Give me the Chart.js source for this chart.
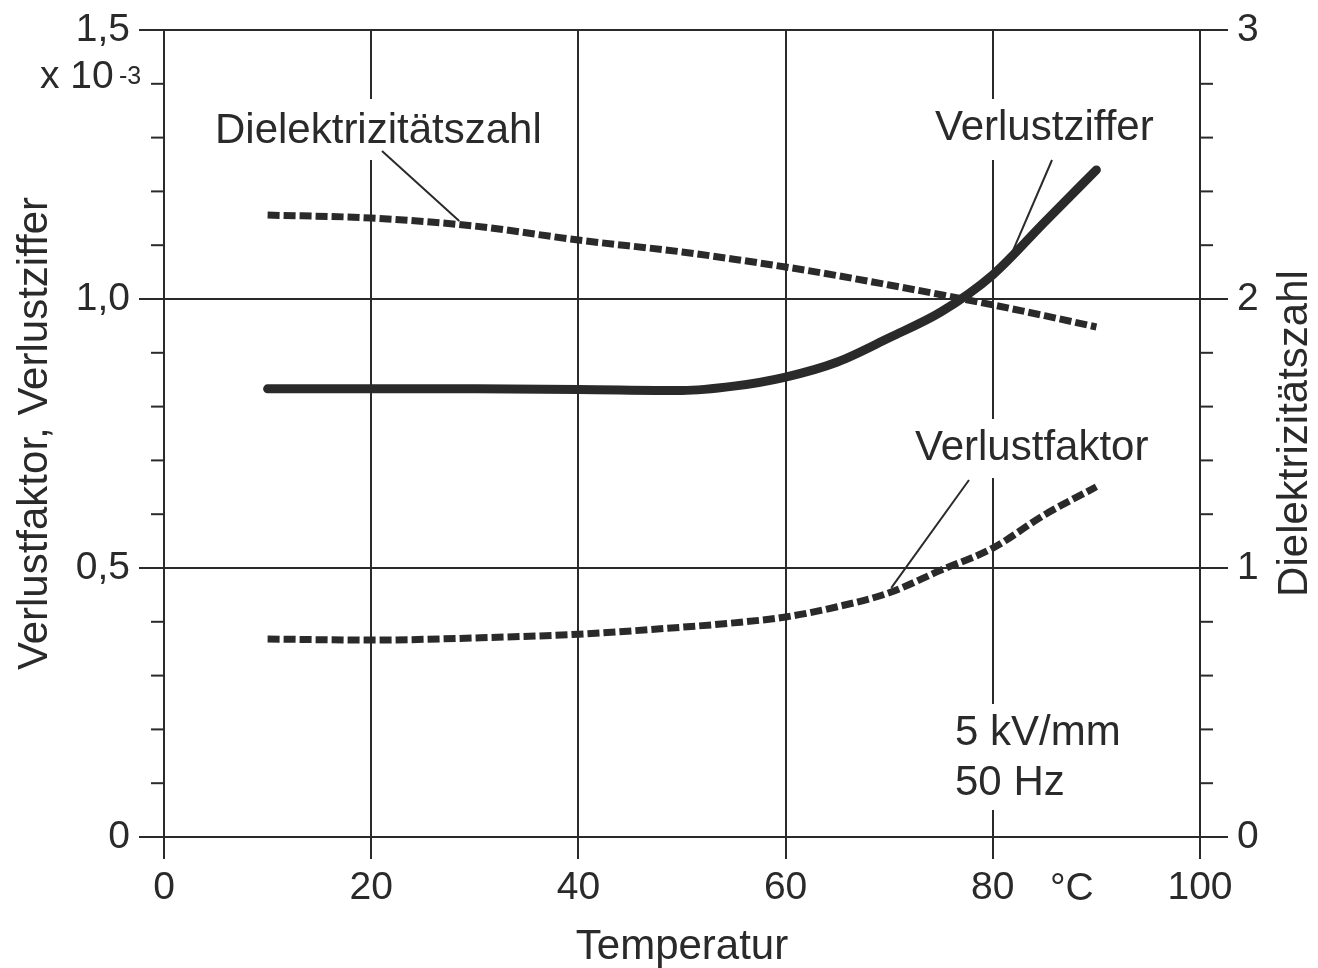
<!DOCTYPE html>
<html>
<head>
<meta charset="utf-8">
<script src="https://cdn.jsdelivr.net/npm/chart.js@4.4.1/dist/chart.umd.min.js"></script>
<style>
  body { margin: 0; background: #fff; }
  #wrap { width: 1318px; height: 968px; }
</style>
</head>
<body>
<div id="wrap"><canvas id="chart"></canvas></div>
<script>
// Werte
const temps = [10, 20, 30, 40, 50, 55, 60, 65, 70, 75, 80, 85, 90];
const verlustziffer = [0.833, 0.833, 0.833, 0.832, 0.830, 0.838, 0.855, 0.883, 0.928, 0.976, 1.045, 1.143, 1.240];
const verlustfaktor = [0.368, 0.366, 0.370, 0.377, 0.390, 0.398, 0.409, 0.428, 0.454, 0.496, 0.537, 0.599, 0.651];
const dielektrizitaet = [2.312, 2.301, 2.271, 2.219, 2.175, 2.148, 2.119, 2.087, 2.052, 2.016, 1.978, 1.938, 1.896];

const xTicks = [0, 20, 40, 60, 80, 100];
const leftMajor = [0, 0.5, 1.0, 1.5];
const rightMajor = [0, 1, 2, 3];

const INK = '#2a2a2a';
const FONT = '"Liberation Sans", Arial, Helvetica, sans-serif';

Chart.defaults.font.family = FONT;
Chart.defaults.color = INK;

const isMajor = (v, list) => list.some(m => Math.abs(m - v) < 1e-6);
const pts = (vals) => temps.map((t, i) => ({ x: t, y: vals[i] }));

// feste Breiten, damit die Zeichenflaeche wie im Original sitzt
const fixWidth = w => s => {
    s.width = w;
    s.paddingTop = 0;
    s.paddingBottom = 0;
};

// Beschriftungen, Hilfsstriche, Teilstriche
const overlay = {
    id: 'overlay',
    beforeDatasetsDraw(chart) {
        const { ctx, chartArea, scales } = chart;
        const { x, y, y2 } = scales;
        ctx.save();
        ctx.strokeStyle = INK;
        ctx.lineWidth = 2;

        // Teilstriche links
        y.ticks.forEach(t => {
            const py = y.getPixelForValue(t.value);
            const len = isMajor(t.value, leftMajor) ? 25 : 13;
            ctx.beginPath();
            ctx.moveTo(chartArea.left - len, py);
            ctx.lineTo(chartArea.left, py);
            ctx.stroke();
        });
        // Teilstriche rechts
        y2.ticks.forEach(t => {
            const py = y2.getPixelForValue(t.value);
            const len = isMajor(t.value, rightMajor) ? 28 : 13;
            ctx.beginPath();
            ctx.moveTo(chartArea.right, py);
            ctx.lineTo(chartArea.right + len, py);
            ctx.stroke();
        });

        // weisse Flaechen hinter den Texten
        ctx.fillStyle = '#fff';
        ctx.fillRect(205, 99, 360, 61);
        ctx.fillRect(925, 99, 250, 61);
        ctx.fillRect(905, 419, 265, 59);
        ctx.fillRect(945, 704, 190, 106);

        ctx.fillStyle = INK;
        ctx.font = '42px ' + FONT;
        ctx.textAlign = 'left';
        ctx.textBaseline = 'alphabetic';
        ctx.fillText('Dielektrizitätszahl', 215, 143);
        ctx.fillText('Verlustziffer', 935, 140);
        ctx.fillText('Verlustfaktor', 915, 460);
        ctx.fillText('5 kV/mm', 955, 745);
        ctx.fillText('50 Hz', 955, 795);

        // Hinweislinien
        const lead = (x0, y0, px, py) => {
            ctx.beginPath();
            ctx.moveTo(x0, y0);
            ctx.lineTo(px, py);
            ctx.stroke();
        };
        lead(382, 151, x.getPixelForValue(28.5), y2.getPixelForValue(2.29));
        lead(1052, 160, x.getPixelForValue(81.5), y.getPixelForValue(1.07));
        lead(969, 480, x.getPixelForValue(70.2), y.getPixelForValue(0.463));

        // x 10-3
        ctx.textAlign = 'left';
        ctx.font = '39px ' + FONT;
        ctx.fillText('x 10', 40, 88);
        ctx.font = '25px ' + FONT;
        ctx.fillText('-3', 119, 84);

        // Einheit
        ctx.font = '39px ' + FONT;
        ctx.fillText('°C', 1050, 900);

        // rechter Achsentitel
        ctx.font = '42px ' + FONT;
        ctx.translate(1295, (chartArea.top + chartArea.bottom) / 2);
        ctx.rotate(-Math.PI / 2);
        ctx.textAlign = 'center';
        ctx.textBaseline = 'middle';
        ctx.fillText('Dielektrizitätszahl', 0, 0);
        ctx.restore();
    }
};

const dashed = {
    borderColor: INK,
    borderWidth: 7,
    borderDash: [12, 4],
    pointRadius: 0,
    cubicInterpolationMode: 'monotone',
    fill: false
};

new Chart(document.getElementById('chart'), {
    type: 'line',
    data: {
        datasets: [
            Object.assign({ label: 'Dielektrizitätszahl', data: pts(dielektrizitaet), yAxisID: 'y2' }, dashed),
            Object.assign({ label: 'Verlustfaktor', data: pts(verlustfaktor), yAxisID: 'y' }, dashed),
            {
                label: 'Verlustziffer',
                data: pts(verlustziffer),
                yAxisID: 'y',
                borderColor: INK,
                borderWidth: 9,
                borderCapStyle: 'round',
                pointRadius: 0,
                cubicInterpolationMode: 'monotone',
                fill: false
            }
        ]
    },
    options: {
        responsive: true,
        maintainAspectRatio: false,
        animation: false,
        layout: { padding: { top: 30, left: 0, right: 0, bottom: 0 } },
        plugins: {
            legend: { display: false },
            tooltip: { enabled: false }
        },
        scales: {
            x: {
                type: 'linear',
                min: 0,
                max: 100,
                afterBuildTicks: s => { s.ticks = xTicks.map(v => ({ value: v })); },
                ticks: { font: { size: 39 }, color: INK, padding: 6, autoSkip: false },
                grid: { color: INK, lineWidth: 2, tickLength: 22, drawTicks: true },
                border: { display: true, color: INK, width: 2 },
                title: { display: true, text: 'Temperatur', font: { size: 42, lineHeight: 1 }, color: INK, padding: { top: 7, bottom: 0 } },
                afterFit: s => { s.height = 131; }
            },
            y: {
                position: 'left',
                min: 0,
                max: 1.5,
                ticks: {
                    stepSize: 0.1,
                    autoSkip: false,
                    font: { size: 39 },
                    color: INK,
                    padding: 34,
                    callback: v => isMajor(v, leftMajor) ? (v === 0 ? '0' : v.toFixed(1).replace('.', ',')) : ''
                },
                grid: {
                    drawTicks: false,
                    lineWidth: 2,
                    color: c => isMajor(c.tick.value, leftMajor) ? INK : 'rgba(0,0,0,0)'
                },
                border: { display: true, color: INK, width: 2 },
                title: { display: true, text: 'Verlustfaktor, Verlustziffer', font: { size: 42, lineHeight: 1 }, color: INK, padding: { top: 14, bottom: 0 } },
                afterFit: fixWidth(164)
            },
            y2: {
                position: 'right',
                min: 0,
                max: 3,
                ticks: {
                    stepSize: 0.2,
                    autoSkip: false,
                    font: { size: 39 },
                    color: INK,
                    padding: 37,
                    callback: v => isMajor(v, rightMajor) ? String(Math.round(v)) : ''
                },
                grid: { display: false, drawTicks: false },
                border: { display: true, color: INK, width: 2 },
                afterFit: fixWidth(118)
            }
        }
    },
    plugins: [overlay]
});
</script>
</body>
</html>
